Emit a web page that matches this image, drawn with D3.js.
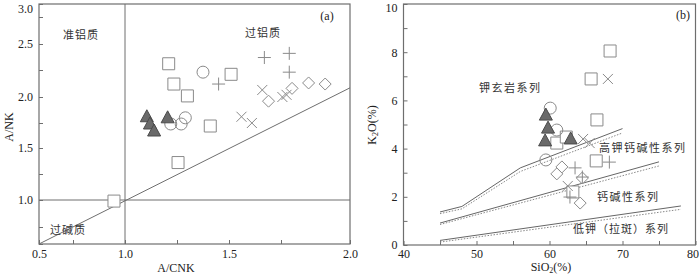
<!DOCTYPE html>
<html>
<head>
<meta charset="utf-8">
<script src="https://cdn.jsdelivr.net/npm/d3@7"></script>
<style>
  body { margin: 0; background: #fff; }
  svg { display: block; }
  .tick text { font-family: "Liberation Serif", serif; font-size: 12px; fill: #222; }
  .cn { font-family: "Noto Sans CJK SC", sans-serif; font-size: 11px; fill: #333; }
  .ttl { font-family: "Liberation Serif", serif; font-size: 12px; fill: #222; }
</style>
</head>
<body>
<div id="wrapper"></div>
<script>
// ---- panel (a) data: A/CNK vs A/NK ----
const aSquares   = [[1.21,2.31],[1.235,2.12],[1.30,2.01],[1.51,2.21],[1.41,1.72],[1.255,1.36],[0.947,0.99]];
const aCircles   = [[1.375,2.23],[1.22,1.74],[1.27,1.74],[1.29,1.80]];
const aTriangles = [[1.105,1.81],[1.12,1.74],[1.14,1.67],[1.205,1.80]];
const aPlus      = [[1.45,2.12],[1.67,2.37],[1.78,2.41],[1.78,2.23]];
const aCross     = [[1.56,1.81],[1.61,1.75],[1.66,2.065],[1.755,2.0],[1.77,2.02]];
const aDiamonds  = [[1.69,1.96],[1.79,2.08],[1.85,2.13],[1.91,2.12]];
const aDiagonal  = [[0.5,0.5],[2.0,2.085]];

// ---- panel (b) data: SiO2 vs K2O ----
const bSquares   = [[68.3,8.05],[65.7,6.89],[66.5,5.19],[61.0,4.23],[62.3,4.48],[66.4,3.49],[63.2,2.20]];
const bCircles   = [[60.1,5.68],[61.0,4.77],[59.5,3.53]];
const bTriangles = [[59.5,5.39],[59.8,4.85],[59.4,4.32],[62.9,4.40]];
const bCross     = [[68.0,6.89],[64.6,4.40],[65.5,4.23],[62.5,2.45]];
const bPlus      = [[68.2,3.44],[63.5,3.20],[64.5,2.82],[62.8,1.99]];
const bDiamonds  = [[61.0,2.95],[61.7,3.24],[64.5,2.78],[64.2,1.74]];

const shoSolid  = [[45,1.37],[48,1.6],[56,3.2],[70,4.83]];
const shoDot    = [[45,1.3],[48,1.5],[56,3.05],[70,4.65]];
const hkSolid   = [[45,0.91],[75,3.45]];
const hkDot     = [[45,0.85],[75,3.28]];
const lkSolid   = [[45,0.19],[78,1.62]];
const lkDot     = [[45,0.12],[78,1.48]];

// tick values
const aXTicks = [0.5,0.75,1,1.25,1.5,1.75,2];
const aXLabels = [0.5,1,1.5,2];
const aYTicks = [0.5,0.75,1,1.25,1.5,1.75,2,2.25,2.5,2.75,3];
const aYLabels = [1,1.5,2,2.5,3];
const bXTicks = d3.range(40,81,5);
const bYTicks = d3.range(0,11,1);

const svg = d3.select("#wrapper").append("svg").attr("width",700).attr("height",275);

const frameColor = "#6e6e6e";
const markColor = "#8a8a8a";

// ---------- panel (a) ----------
// the printed axis is not evenly spaced, so the scale follows its tick positions
const ax = d3.scaleLinear().domain(aXTicks).range([39,73,125,177,229,281,350]);
const ay = d3.scaleLinear().domain(aYTicks).range([244,227,200,174,148,123,97,70,44,17,4]);

const ga = svg.append("g");
ga.append("rect").attr("x",39).attr("y",4).attr("width",311).attr("height",240)
  .attr("fill","none").attr("stroke",frameColor).attr("stroke-width",1.2);

ga.append("g").attr("transform","translate(0,244)")
  .call(d3.axisBottom(ax).tickValues(aXTicks).tickSize(-4).tickPadding(5)
        .tickFormat(d => aXLabels.includes(d) ? d.toFixed(1) : ""))
  .call(g => g.select(".domain").remove())
  .call(g => g.selectAll("line").attr("stroke",frameColor));
ga.append("g").attr("transform","translate(39,0)")
  .call(d3.axisLeft(ay).tickValues(aYTicks).tickSize(-4).tickPadding(6)
        .tickFormat(d => aYLabels.includes(d) ? d.toFixed(1) : ""))
  .call(g => g.select(".domain").remove())
  .call(g => g.selectAll("line").attr("stroke",frameColor))
  .call(g => g.selectAll("text").filter(d => d === 3).attr("dy","0.7em"));

ga.append("line").attr("x1",ax(1)).attr("x2",ax(1)).attr("y1",4).attr("y2",244).attr("stroke",frameColor);
ga.append("line").attr("x1",39).attr("x2",350).attr("y1",ay(1)).attr("y2",ay(1)).attr("stroke",frameColor);
ga.append("path").attr("d",d3.line().x(d=>ax(d[0])).y(d=>ay(d[1]))(aDiagonal))
  .attr("fill","none").attr("stroke",frameColor);

ga.append("text").attr("class","cn").attr("x",81).attr("y",39).attr("text-anchor","middle").attr("letter-spacing",1).text("准铝质");
ga.append("text").attr("class","cn").attr("x",263).attr("y",37).attr("text-anchor","middle").attr("letter-spacing",1).text("过铝质");
ga.append("text").attr("class","cn").attr("x",68).attr("y",234).attr("text-anchor","middle").attr("letter-spacing",1).text("过碱质");
ga.append("text").attr("class","ttl").attr("x",327).attr("y",20).attr("text-anchor","middle").text("(a)");
ga.append("text").attr("class","ttl").attr("x",176).attr("y",272).attr("font-size",11.5).attr("text-anchor","middle").text("A/CNK");
ga.append("text").attr("class","ttl").attr("transform","translate(13,127) rotate(-90)").attr("text-anchor","middle").text("A/NK");

// ---------- panel (b) ----------
const bx = d3.scaleLinear().domain([40,80]).range([403.5,695.5]);
const by = d3.scaleLinear().domain([0,10]).range([245,4]);

const gb = svg.append("g");
gb.append("rect").attr("x",403.5).attr("y",4).attr("width",292).attr("height",241)
  .attr("fill","none").attr("stroke",frameColor).attr("stroke-width",1.2);

gb.append("g").attr("transform","translate(0,245)")
  .call(d3.axisBottom(bx).tickValues(bXTicks).tickSize(-4).tickPadding(4)
        .tickFormat(d => d % 10 === 0 ? d : ""))
  .call(g => g.select(".domain").remove())
  .call(g => g.selectAll("line").attr("stroke",frameColor))
  .call(g => g.selectAll("text").filter(d => d === 80).attr("dx","-3"));
gb.append("g").attr("transform","translate(403.5,0)")
  .call(d3.axisLeft(by).tickValues(bYTicks).tickSize(-4).tickPadding(6)
        .tickFormat(d => d % 2 === 0 ? d : ""))
  .call(g => g.select(".domain").remove())
  .call(g => g.selectAll("line").attr("stroke",frameColor))
  .call(g => g.selectAll("text").filter(d => d === 10).attr("dy","0.65em"));

const bLine = d3.line().x(d=>bx(d[0])).y(d=>by(d[1]));
[shoSolid,hkSolid,lkSolid].forEach(s => gb.append("path").attr("d",bLine(s))
  .attr("fill","none").attr("stroke","#666").attr("stroke-width",1));
[shoDot,hkDot,lkDot].forEach(s => gb.append("path").attr("d",bLine(s))
  .attr("fill","none").attr("stroke","#888").attr("stroke-width",1).attr("stroke-dasharray","1.5,1.5"));

gb.append("text").attr("class","cn").attr("x",479).attr("y",92).attr("letter-spacing",1.5).text("钾玄岩系列");
gb.append("text").attr("class","cn").attr("x",599).attr("y",152).attr("letter-spacing",1.5).text("高钾钙碱性系列");
gb.append("text").attr("class","cn").attr("x",597).attr("y",201).attr("letter-spacing",1.5).text("钙碱性系列");
gb.append("text").attr("class","cn").attr("x",573).attr("y",233).attr("letter-spacing",1).text("低钾（拉斑）系列");
gb.append("text").attr("class","ttl").attr("x",683).attr("y",19).attr("text-anchor","middle").text("(b)");
gb.append("text").attr("class","ttl").attr("x",551).attr("y",271).attr("font-size",11.5).attr("text-anchor","middle")
  .call(t => { t.append("tspan").text("SiO");
               t.append("tspan").attr("font-size",8).attr("dy",1.5).text("2");
               t.append("tspan").attr("dy",-1.5).text("(%)"); });
gb.append("text").attr("class","ttl").attr("transform","translate(376,125) rotate(-90)").attr("text-anchor","middle")
  .call(t => { t.append("tspan").text("K");
               t.append("tspan").attr("font-size",8).attr("dy",2).text("2");
               t.append("tspan").attr("dy",-2).text("O(%)"); });

// ---------- markers ----------
function drawMarkers(g, xs, ys, pts, kind) {
  const sel = g.append("g").selectAll("path").data(pts).join("path")
    .attr("transform", d => `translate(${xs(d[0])},${ys(d[1])})`);
  if (kind === "square") sel.attr("d","M-6,-6H6V6H-6Z").attr("fill","#fff").attr("stroke",markColor);
  if (kind === "circle") sel.attr("d",d3.symbol(d3.symbolCircle,113)()).attr("fill","none").attr("stroke",markColor);
  if (kind === "diamond") sel.attr("d","M0,-6L6,0L0,6L-6,0Z").attr("fill","#fff").attr("stroke",markColor);
  if (kind === "plus") sel.attr("d","M-6.5,0H6.5M0,-6.5V6.5").attr("fill","none").attr("stroke",markColor);
  if (kind === "cross") sel.attr("d","M-5,-5L5,5M-5,5L5,-5").attr("fill","none").attr("stroke",markColor);
  if (kind === "triangle") sel.attr("d","M0,-7L6.5,5L-6.5,5Z").attr("fill","#6a6a6a").attr("stroke","#4a4a4a");
}

drawMarkers(ga, ax, ay, aSquares, "square");
drawMarkers(ga, ax, ay, aDiamonds, "diamond");
drawMarkers(ga, ax, ay, aCircles, "circle");
drawMarkers(ga, ax, ay, aPlus, "plus");
drawMarkers(ga, ax, ay, aCross, "cross");
drawMarkers(ga, ax, ay, aTriangles, "triangle");

drawMarkers(gb, bx, by, bSquares, "square");
drawMarkers(gb, bx, by, bDiamonds, "diamond");
drawMarkers(gb, bx, by, bCircles, "circle");
drawMarkers(gb, bx, by, bPlus, "plus");
drawMarkers(gb, bx, by, bCross, "cross");
drawMarkers(gb, bx, by, bTriangles, "triangle");
</script>
</body>
</html>
